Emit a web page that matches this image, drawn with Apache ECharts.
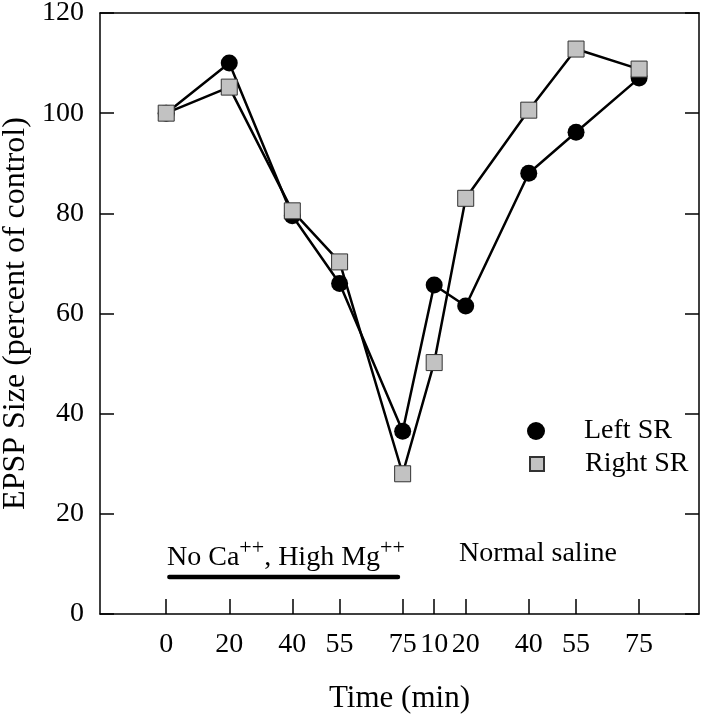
<!DOCTYPE html>
<html>
<head>
<meta charset="utf-8">
<title>EPSP Size</title>
<script src="https://cdn.jsdelivr.net/npm/echarts@6/dist/echarts.min.js"></script>
<style>
  html, body { margin: 0; padding: 0; background: #fff; }
  #chart { width: 706px; height: 720px; }
</style>
</head>
<body>
<div id="chart"></div>
<script>
// plotting positions: second period (normal saline) is drawn at 75 + t
const timePos = [0, 20, 40, 55, 75, 85, 95, 115, 130, 150]
const tickLabels = ['0', '20', '40', '55', '75', '10', '20', '40', '55', '75']
const leftSR = [100, 110, 79.5, 66, 36.5, 65.7, 61.5, 88, 96.2, 107]
const rightSR = [100, 105.2, 80.5, 70.3, 28, 50.2, 83, 100.6, 112.8, 108.8]
// treatment period bar (No Ca++, High Mg++)
const treatSpan = [1, 73.5]
const treatLevel = 7.4

const font = 'Liberation Serif'
const chart = echarts.init(document.getElementById('chart'))

const pairs = (ys) => timePos.map((t, i) => [t, ys[i]])

chart.setOption({
  animation: false,
  textStyle: { fontFamily: font, color: '#000' },
  grid: { left: 100, right: 7, top: 13, bottom: 106, containLabel: false, outerBoundsMode: 'none' },
  legend: [
    {
      data: [{ name: 'Left SR', icon: 'circle' }],
      left: 527, top: 417, padding: 0,
      itemWidth: 18, itemHeight: 18,
      selectedMode: false,
      textStyle: { fontFamily: font, fontSize: 28, lineHeight: 28, color: '#000', padding: [0, 0, 0, 34] }
    },
    {
      data: [{ name: 'Right SR', icon: 'rect' }],
      left: 529, top: 450, padding: 0,
      itemWidth: 14, itemHeight: 14,
      selectedMode: false,
      textStyle: { fontFamily: font, fontSize: 28, lineHeight: 28, color: '#000', padding: [0, 0, 0, 36] }
    }
  ],
  xAxis: [
    {
      type: 'value',
      min: -21,
      max: 169,
      name: 'Time (min)',
      nameLocation: 'middle',
      nameGap: 69,
      nameTextStyle: { fontFamily: font, fontSize: 31, color: '#000' },
      splitLine: { show: false },
      axisLine: { onZero: false, lineStyle: { color: '#000', width: 1.5 } },
      axisTick: {
        inside: true, length: 15, customValues: timePos,
        lineStyle: { color: '#000', width: 1.5 }
      },
      axisLabel: {
        customValues: timePos,
        margin: 17,
        fontFamily: font, fontSize: 28, color: '#000',
        formatter: (v) => tickLabels[timePos.indexOf(v)]
      }
    },
    {
      type: 'value', position: 'top', min: -21, max: 169,
      axisLine: { show: true, onZero: false, lineStyle: { color: '#000', width: 1.5 } },
      axisTick: { show: false }, axisLabel: { show: false }, splitLine: { show: false }
    }
  ],
  yAxis: [
    {
      type: 'value',
      min: 0, max: 120, interval: 20,
      name: 'EPSP Size (percent of control)',
      nameLocation: 'middle',
      nameGap: 65,
      nameTextStyle: { fontFamily: font, fontSize: 32, color: '#000' },
      splitLine: { show: false },
      axisLine: { show: true, onZero: false, lineStyle: { color: '#000', width: 1.5 } },
      axisTick: { inside: true, length: 14, lineStyle: { color: '#000', width: 1.5 } },
      axisLabel: { margin: 16, fontFamily: font, fontSize: 28, color: '#000' }
    },
    {
      type: 'value', position: 'right',
      min: 0, max: 120, interval: 20,
      splitLine: { show: false },
      axisLine: { show: true, onZero: false, lineStyle: { color: '#000', width: 1.5 } },
      axisTick: { inside: true, length: 14, lineStyle: { color: '#000', width: 1.5 } },
      axisLabel: { show: false }
    }
  ],
  series: [
    {
      name: 'treatment',
      type: 'line',
      data: treatSpan.map((t) => [t, treatLevel]),
      symbol: 'none',
      silent: true,
      lineStyle: { color: '#000', width: 4.5, cap: 'round' },
      z: 1
    },
    {
      name: 'Left SR',
      type: 'line',
      data: pairs(leftSR),
      symbol: 'circle',
      symbolSize: 17,
      itemStyle: { color: '#000' },
      lineStyle: { color: '#000', width: 2.5 },
      z: 2
    },
    {
      name: 'Right SR',
      type: 'line',
      data: pairs(rightSR),
      symbol: 'rect',
      symbolSize: 16,
      itemStyle: { color: '#c2c2c2', borderColor: '#333', borderWidth: 1 },
      lineStyle: { color: '#000', width: 2.5 },
      z: 3
    }
  ],
  graphic: [
    {
      type: 'text',
      x: 167, y: 558,
      style: {
        text: '{m|No Ca}{s|++}{m|, High Mg}{s|++}',
        verticalAlign: 'middle',
        rich: {
          m: { fontFamily: font, fontSize: 28, lineHeight: 42, fill: '#000' },
          s: { fontFamily: font, fontSize: 22, lineHeight: 22, verticalAlign: 'top', fill: '#000' }
        }
      }
    },
    {
      type: 'text',
      x: 459, y: 554,
      style: {
        text: 'Normal saline',
        fontFamily: font, fontSize: 28, fill: '#000',
        verticalAlign: 'middle'
      }
    }
  ]
})
</script>
</body>
</html>
